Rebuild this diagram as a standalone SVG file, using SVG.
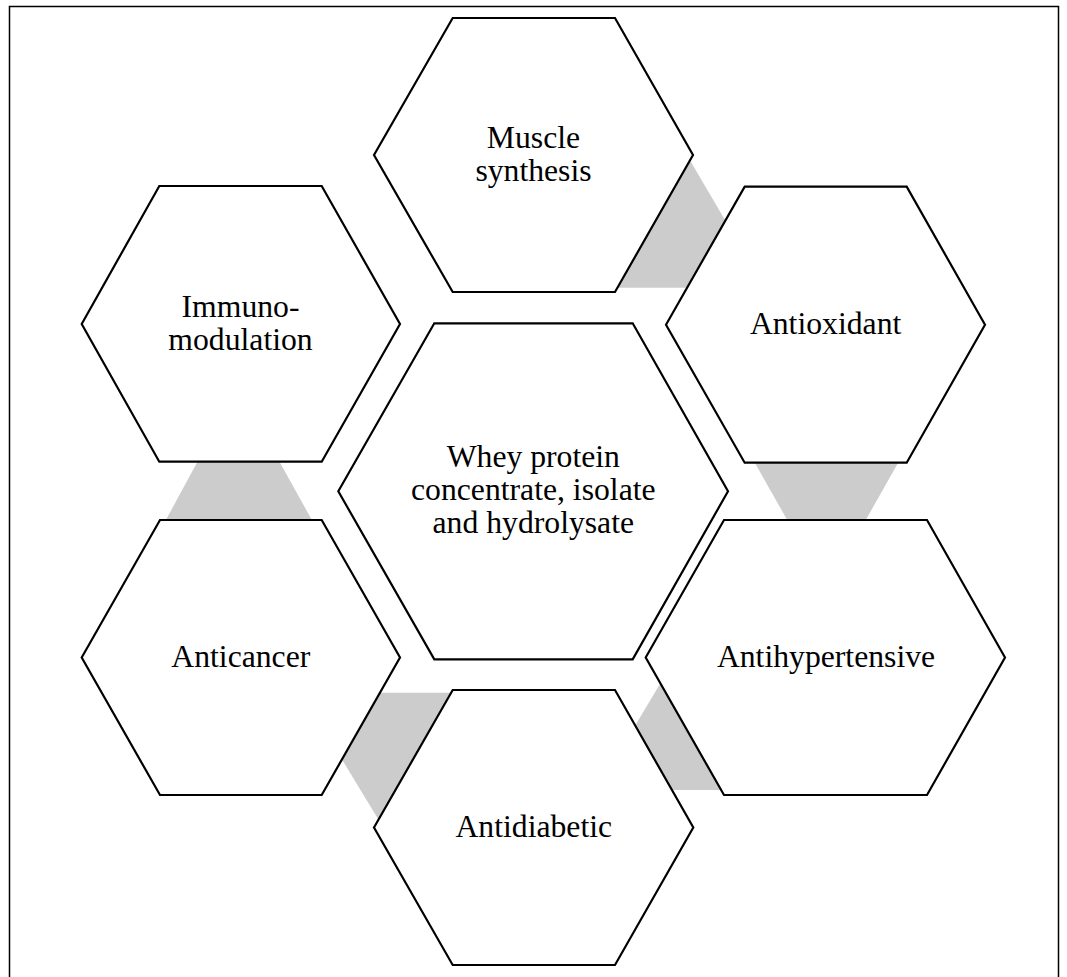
<svg xmlns="http://www.w3.org/2000/svg" width="1067" height="977" viewBox="0 0 1067 977">
<style>
.hex{fill:#ffffff;stroke:#000000;stroke-width:2.2;stroke-linejoin:miter}
.gap{fill:#cccccc;stroke:none}
.lbl{font-family:"Liberation Serif","Times New Roman",serif;font-size:31.7px;fill:#000000;text-anchor:middle}
</style>
<rect x="0" y="0" width="1067" height="977" fill="#ffffff"/>
<path d="M9.5,977 L9.5,6.5 L1058.5,6.5 L1058.5,977" fill="none" stroke="#000000" stroke-width="1.5"/>
<g id="connectors">
<polygon class="gap" points="681.7,146.3 741.6,248.3 700,287.7 600,287.7"/>
<polygon class="gap" points="742,440 911,440 854.5,540 798.5,540"/>
<polygon class="gap" points="669.4,668.3 625.8,741.3 650,790 740,790"/>
<polygon class="gap" points="330,739.7 365,692.7 470,692.7 383.4,827.7"/>
<polygon class="gap" points="209.3,440 267.4,440 323,540 155,540"/>
</g>
<g id="muscle">
<polygon class="hex" points="374,155 452.7,18 615,18 693,155 615,292 452.7,292"/>
<text class="lbl" x="533.5" y="148.3">Muscle</text>
<text class="lbl" x="533.5" y="181">synthesis</text>
</g>
<g id="antioxidant">
<polygon class="hex" points="666,324.7 744.7,186.7 906.7,186.7 985,324.7 906.7,462.7 744.7,462.7"/>
<text class="lbl" x="825.6" y="334">Antioxidant</text>
</g>
<g id="antihypertensive">
<polygon class="hex" points="645.7,657.5 724,520 927,520 1005,657.5 927,795 724,795"/>
<text class="lbl" x="826" y="666.7">Antihypertensive</text>
</g>
<g id="antidiabetic">
<polygon class="hex" points="374,827.5 452.7,690 615,690 693.3,827.5 615,965 452.7,965"/>
<text class="lbl" x="533.8" y="836.7">Antidiabetic</text>
</g>
<g id="anticancer">
<polygon class="hex" points="81.7,657.5 160,520 321.7,520 400,657.5 321.7,795 160,795"/>
<text class="lbl" x="240.8" y="667">Anticancer</text>
</g>
<g id="immunomodulation">
<polygon class="hex" points="81.7,324 159.3,186 321.7,186 400,324 321.7,461.7 159.3,461.7"/>
<text class="lbl" x="240.5" y="316.7">Immuno-</text>
<text class="lbl" x="240.5" y="350">modulation</text>
</g>
<g id="center">
<polygon class="hex" points="338.3,491.3 434.3,323.3 632.7,323.3 728,491.3 632.7,659.3 434.3,659.3"/>
<text class="lbl" x="533.3" y="466.7">Whey protein</text>
<text class="lbl" x="533.3" y="500">concentrate, isolate</text>
<text class="lbl" x="533.3" y="532.7">and hydrolysate</text>
</g>
</svg>
